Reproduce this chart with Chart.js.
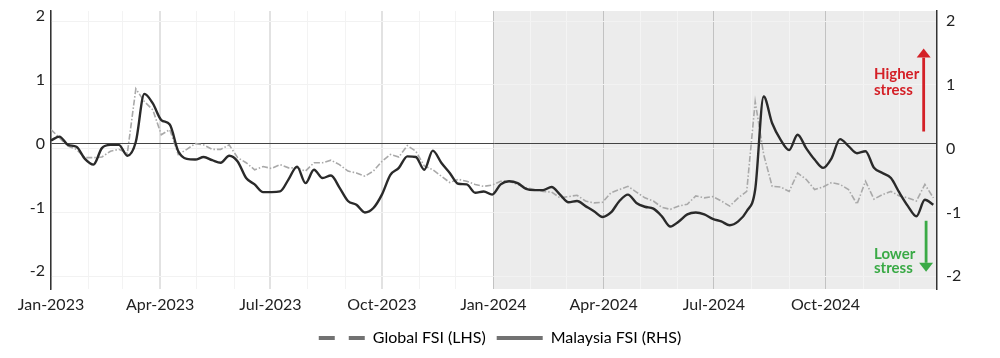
<!DOCTYPE html>
<html>
<head>
<meta charset="utf-8">
<script src="https://cdn.jsdelivr.net/npm/chart.js@4.4.1/dist/chart.umd.min.js"></script>
<style>
  html, body { margin: 0; padding: 0; background: #fff; }
  #wrap { width: 1000px; height: 358px; }
</style>
</head>
<body>
<div id="wrap"><canvas id="fsiChart"></canvas></div>
<script>
const startDate = Date.UTC(2023, 0, 1);
const dayMs = 86400000;

// weekly readings, first week of Jan-2023 to the last week of Dec-2024
const globalFsi = [
  0.22, 0.09, -0.04, -0.09, -0.22, -0.22, -0.21, -0.12, -0.09, -0.15, 0.86, 0.66, 0.53,
  0.14, 0.22, -0.17, -0.09, 0.00, -0.02, -0.09, -0.09, -0.02, -0.22, -0.30, -0.41, -0.36,
  -0.39, -0.33, -0.38, -0.38, -0.43, -0.30, -0.30, -0.26, -0.33, -0.43, -0.46, -0.51, -0.43,
  -0.28, -0.17, -0.21, -0.03, -0.12, -0.35, -0.41, -0.51, -0.61, -0.56, -0.59, -0.64, -0.67,
  -0.65, -0.59, -0.59, -0.64, -0.69, -0.72, -0.75, -0.76, -0.85, -0.83, -0.81, -0.90, -0.93,
  -0.92, -0.77, -0.72, -0.67, -0.76, -0.85, -0.90, -1.00, -1.03, -0.98, -0.95, -0.82, -0.85,
  -0.83, -0.90, -0.98, -0.85, -0.75, 0.66, -0.17, -0.67, -0.68, -0.75, -0.46, -0.56, -0.72,
  -0.68, -0.61, -0.64, -0.72, -0.95, -0.59, -0.87, -0.80, -0.75, -0.82, -0.85, -0.90, -0.64,
  -0.85,
];

const malaysiaFsi = [
  0.13, 0.19, 0.06, 0.03, -0.16, -0.25, 0.01, 0.06, 0.06, -0.11, 0.11, 0.86, 0.71,
  0.45, 0.38, -0.04, -0.16, -0.17, -0.13, -0.18, -0.22, -0.11, -0.20, -0.46, -0.56, -0.68,
  -0.68, -0.67, -0.48, -0.28, -0.54, -0.33, -0.46, -0.42, -0.61, -0.82, -0.88, -1.00, -0.93,
  -0.72, -0.41, -0.30, -0.12, -0.13, -0.33, -0.03, -0.22, -0.38, -0.55, -0.56, -0.69, -0.67,
  -0.72, -0.56, -0.51, -0.54, -0.63, -0.65, -0.65, -0.60, -0.72, -0.84, -0.82, -0.90, -0.98,
  -1.07, -1.00, -0.82, -0.72, -0.85, -0.91, -0.94, -1.06, -1.22, -1.14, -1.03, -1.00, -1.03,
  -1.10, -1.14, -1.20, -1.14, -0.98, -0.64, 0.82, 0.40, 0.14, -0.02, 0.22, 0.01, -0.17,
  -0.30, -0.15, 0.15, 0.04, -0.07, -0.04, -0.30, -0.38, -0.46, -0.69, -0.90, -1.06, -0.80,
  -0.88,
];

const monthNames = ["Jan", "Feb", "Mar", "Apr", "May", "Jun", "Jul", "Aug", "Sep", "Oct", "Nov", "Dec"];
const years = [2023, 2024];
const yTicks = [-2, -1, 0, 1, 2];

function dayOf(y, m, d) {
  return (Date.UTC(y, m, d) - startDate) / dayMs;
}

const weekDays = malaysiaFsi.map((_, i) => i * 7);
const endDay = dayOf(2025, 0, 1);
const shadeStartDay = dayOf(2024, 0, 1);

const monthTicks = [];
years.forEach((yr) => {
  monthNames.forEach((name, m) => {
    monthTicks.push({
      value: dayOf(yr, m, 1),
      label: m % 3 === 0 ? `${name}-${yr}` : "",
      quarter: m % 3 === 0,
    });
  });
});
const tickInfo = {};
monthTicks.forEach((t) => (tickInfo[t.value] = t));

const fontFamily = "Lato, 'Open Sans', sans-serif";

// grey background for 2024
const shade2024 = {
  id: "shade2024",
  beforeDraw(chart) {
    const { ctx, chartArea } = chart;
    const x0 = chart.scales.x.getPixelForValue(shadeStartDay);
    ctx.save();
    ctx.fillStyle = "#ececec";
    ctx.fillRect(x0, chartArea.top, chartArea.right - x0, chartArea.bottom - chartArea.top);
    ctx.restore();
  },
};

function drawArrow(ctx, x, yFrom, yTo, color) {
  const dir = yTo < yFrom ? -1 : 1;
  const headLen = 9;
  ctx.strokeStyle = color;
  ctx.fillStyle = color;
  ctx.lineWidth = 2.8;
  ctx.beginPath();
  ctx.moveTo(x, yFrom);
  ctx.lineTo(x, yTo - dir * headLen);
  ctx.stroke();
  ctx.beginPath();
  ctx.moveTo(x, yTo);
  ctx.lineTo(x - 7, yTo - dir * headLen);
  ctx.lineTo(x + 7, yTo - dir * headLen);
  ctx.closePath();
  ctx.fill();
}

// "Higher stress" / "Lower stress" notes on the right
const stressNotes = {
  id: "stressNotes",
  afterDatasetsDraw(chart) {
    const { ctx } = chart;
    const xs = chart.scales.x;
    const ys = chart.scales.y1;
    const textX = xs.getPixelForValue(679);
    ctx.save();
    ctx.font = `bold 15px ${fontFamily}`;
    ctx.textAlign = "left";
    ctx.textBaseline = "alphabetic";

    ctx.fillStyle = "#d42027";
    ctx.fillText("Higher", textX, ys.getPixelForValue(1.086));
    ctx.fillText("stress", textX, ys.getPixelForValue(0.836));
    drawArrow(ctx, xs.getPixelForValue(720), ys.getPixelForValue(0.27), ys.getPixelForValue(1.57), "#d42027");

    ctx.fillStyle = "#3aaa46";
    ctx.fillText("Lower", textX, ys.getPixelForValue(-1.727));
    ctx.fillText("stress", textX, ys.getPixelForValue(-1.953));
    drawArrow(ctx, xs.getPixelForValue(722), ys.getPixelForValue(-1.13), ys.getPixelForValue(-1.93), "#3aaa46");
    ctx.restore();
  },
};

// keep the plot area fixed: no extra room for half-height tick labels
function fixAxis(w) {
  return (axis) => {
    axis.width = w;
    axis.paddingTop = 0;
    axis.paddingBottom = 0;
  };
}

const ctx = document.getElementById("fsiChart");

new Chart(ctx, {
  type: "line",
  data: {
    datasets: [
      {
        label: "Global FSI (LHS)",
        data: globalFsi.map((v, i) => ({ x: weekDays[i], y: v })),
        yAxisID: "y",
        borderColor: "#a9a9a9",
        borderWidth: 1.6,
        borderDash: [6, 2, 1.5, 2],
        pointRadius: 0,
        tension: 0,
        order: 1,
      },
      {
        label: "Malaysia FSI (RHS)",
        data: malaysiaFsi.map((v, i) => ({ x: weekDays[i], y: v })),
        yAxisID: "y1",
        borderColor: "#2a2a2a",
        borderWidth: 2.4,
        cubicInterpolationMode: "monotone",
        pointRadius: 0,
        order: 0,
      },
    ],
  },
  options: {
    responsive: true,
    maintainAspectRatio: false,
    animation: false,
    layout: { padding: { top: 11, bottom: 2, left: 0, right: 0 } },
    plugins: {
      tooltip: { enabled: false },
      legend: {
        position: "bottom",
        labels: {
          usePointStyle: true,
          pointStyleWidth: 46,
          padding: 11,
          color: "#222",
          font: { family: fontFamily, size: 16 },
          generateLabels: () => [
            { text: "Global FSI (LHS)", pointStyle: "line", strokeStyle: "#727272", fillStyle: "#727272", lineWidth: 4, lineDash: [16, 14], datasetIndex: 0 },
            { text: "Malaysia FSI (RHS)", pointStyle: "line", strokeStyle: "#727272", fillStyle: "#727272", lineWidth: 4, lineDash: [], datasetIndex: 1 },
          ],
        },
      },
    },
    scales: {
      x: {
        type: "linear",
        min: 0,
        max: endDay,
        afterBuildTicks: (axis) => {
          axis.ticks = monthTicks.map((t) => ({ value: t.value }));
        },
        afterFit: (axis) => {
          axis.height = 30;
        },
        ticks: {
          autoSkip: false,
          maxRotation: 0,
          padding: 6,
          color: "#222",
          font: { family: fontFamily, size: 16 },
          callback: (v) => (tickInfo[v] ? tickInfo[v].label : ""),
        },
        grid: {
          drawTicks: false,
          color: (c) => {
            const t = tickInfo[c.tick.value];
            const q = t && t.quarter;
            if (c.tick.value >= shadeStartDay) return q ? "#c2c2c2" : "#f4f4f4";
            return q ? "#e2e2e2" : "#f3f3f3";
          },
          lineWidth: (c) => {
            const t = tickInfo[c.tick.value];
            return t && t.quarter && c.tick.value < shadeStartDay ? 2 : 1;
          },
        },
        border: { display: false },
      },
      y: {
        position: "left",
        min: -2.28,
        max: 2.08,
        afterBuildTicks: (axis) => {
          axis.ticks = yTicks.map((v) => ({ value: v }));
        },
        afterFit: fixAxis(51),
        ticks: {
          padding: 6,
          color: "#222",
          font: { family: fontFamily, size: 16 },
        },
        grid: {
          drawTicks: false,
          color: (c) => (c.tick.value === 0 ? "#444" : "rgba(0,0,0,0)"),
        },
        border: { color: "#333", width: 1.5 },
      },
      y1: {
        position: "right",
        min: -2.2,
        max: 2.16,
        afterBuildTicks: (axis) => {
          axis.ticks = yTicks.map((v) => ({ value: v }));
        },
        afterFit: fixAxis(63),
        ticks: {
          padding: 9,
          color: "#222",
          font: { family: fontFamily, size: 16 },
        },
        grid: {
          drawTicks: false,
          color: "#f2f2f2",
        },
        border: { color: "#333", width: 1.5 },
      },
    },
  },
  plugins: [shade2024, stressNotes],
});
</script>
</body>
</html>
